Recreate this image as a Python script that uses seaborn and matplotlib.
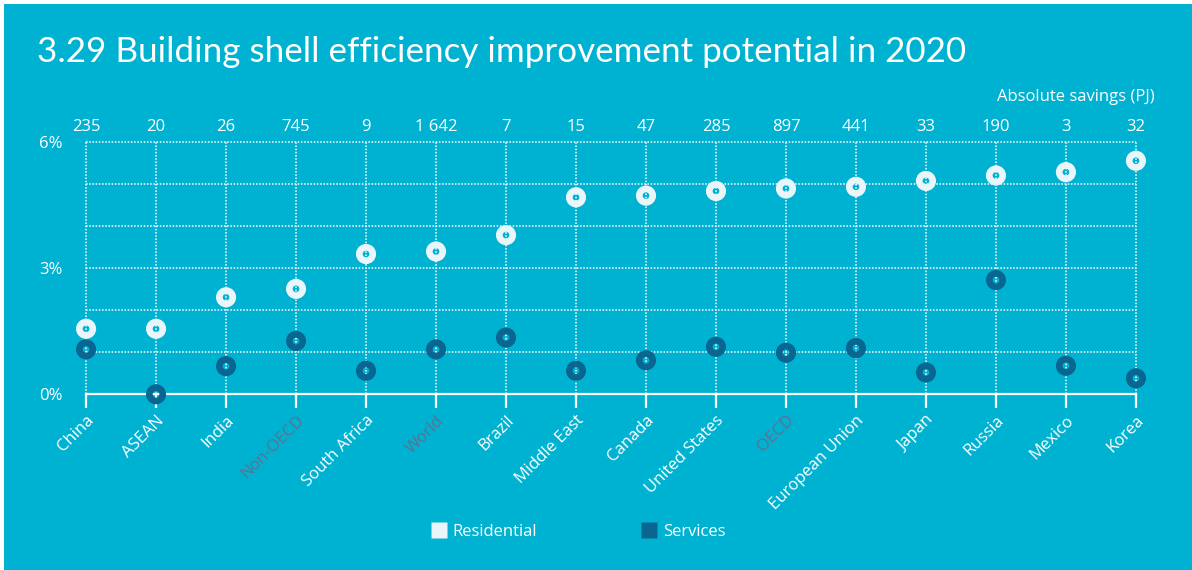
import matplotlib
matplotlib.use("Agg")
import matplotlib.pyplot as plt
from matplotlib.patches import Rectangle
from matplotlib.lines import Line2D
import seaborn as sns
import pandas as pd

# Regions, ordered by residential potential
regions = ["China", "ASEAN", "India", "Non-OECD", "South Africa", "World", "Brazil",
           "Middle East", "Canada", "United States", "OECD", "European Union",
           "Japan", "Russia", "Mexico", "Korea"]
# Improvement potential, % of energy use
residential = [1.56, 1.56, 2.31, 2.51, 3.34, 3.40, 3.79, 4.69, 4.73, 4.84, 4.90,
               4.94, 5.08, 5.21, 5.29, 5.56]
services = [1.07, 0.00, 0.67, 1.27, 0.56, 1.07, 1.35, 0.56, 0.81, 1.13, 0.99,
            1.10, 0.52, 2.72, 0.68, 0.38]
# Absolute savings (PJ)
savings = ["235", "20", "26", "745", "9", "1 642", "7", "15", "47", "285", "897",
           "441", "33", "190", "3", "32"]
aggregates = ["Non-OECD", "World", "OECD"]

TEAL = "#00b2d1"
WHITE = "#ffffff"
RES_COL = "#e9f5f8"
SRV_COL = "#0a6691"
AGG_COL = "#5f7093"
FONT = ["Open Sans", "DejaVu Sans"]

sns.set_theme(style="white")
plt.rcParams["font.family"] = FONT

df = pd.DataFrame({
    "region": regions * 2,
    "pos": list(range(len(regions))) * 2,
    "value": residential + services,
    "sector": ["Residential"] * len(regions) + ["Services"] * len(regions),
})

fig = plt.figure(figsize=(11.92, 5.70), dpi=100, facecolor=TEAL)
# thin white frame on the top and left edges
fig.add_artist(Rectangle((0, 1 - 4 / 570), 1, 4 / 570, transform=fig.transFigure,
                         facecolor=WHITE, edgecolor="none", zorder=0))
fig.add_artist(Rectangle((0, 0), 4 / 1192, 1, transform=fig.transFigure,
                         facecolor=WHITE, edgecolor="none", zorder=0))

left, right = 86 / 1192, 1136 / 1192
bottom, top = (570 - 394.3) / 570, (570 - 142.3) / 570
ax = fig.add_axes([left, bottom, right - left, top - bottom])
ax.set_facecolor("none")

palette = {"Residential": RES_COL, "Services": SRV_COL}
for sector, col in palette.items():
    sub = df[df["sector"] == sector]
    sns.scatterplot(data=sub, x="pos", y="value", ax=ax, color=col, s=94,
                    linewidth=4.8, legend=False, zorder=3, clip_on=False)
    coll = ax.collections[-1]
    coll.set_facecolor("none")
    coll.set_edgecolor(col)

ax.set_xlim(-0.001, len(regions) - 1 + 0.001)
ax.set_ylim(0, 6.0)
ax.set_xlabel("")
ax.set_ylabel("")

# dotted grid
ax.set_xticks(range(len(regions)))
for y in range(1, 7):
    ax.axhline(y, color=WHITE, lw=1.1, ls=(0, (1, 1.1)), zorder=1, clip_on=False)
for x in range(len(regions)):
    ax.axvline(x, color=WHITE, lw=1.1, ls=(0, (1, 1.1)), zorder=1, clip_on=False)

for s in ["top", "right", "left"]:
    ax.spines[s].set_visible(False)
ax.spines["bottom"].set_color(WHITE)
ax.spines["bottom"].set_linewidth(1.6)
ax.spines["bottom"].set_zorder(2)

ax.set_yticks([0, 3, 6])
ax.set_yticklabels(["0%", "3%", "6%"])
ax.tick_params(axis="y", length=0, pad=17, labelsize=12, labelcolor=WHITE)
ax.set_xticklabels(regions, rotation=45, ha="right", rotation_mode="anchor")
ax.tick_params(axis="x", length=10, width=1.6, color=WHITE, direction="out",
               pad=3, labelsize=12, labelcolor=WHITE)
for lab in ax.get_xticklabels():
    if lab.get_text() in aggregates:
        lab.set_color(AGG_COL)

# absolute savings along the top
ax2 = ax.twiny()
ax2.set_xlim(ax.get_xlim())
ax2.set_xticks(range(len(regions)))
ax2.set_xticklabels(savings)
ax2.tick_params(axis="x", length=0, pad=5, labelsize=12, labelcolor=WHITE)
for s in ax2.spines.values():
    s.set_visible(False)
ax2.grid(False)
ax.grid(False)

fig.text(1155 / 1192, 1 - 97 / 570, "Absolute savings (PJ)", ha="right", va="center",
         color=WHITE, fontsize=12)
fig.text(37 / 1192, 1 - 52 / 570, "3.29 Building shell efficiency improvement potential in 2020",
         ha="left", va="center", color=WHITE, fontsize=25.2, family=["Lato", "DejaVu Sans"])

handles = [Line2D([], [], marker="s", ls="none", markersize=11.5, markerfacecolor=c,
                  markeredgecolor="none", label=k) for k, c in palette.items()]
leg = fig.legend(handles=handles, loc="center", bbox_to_anchor=(578 / 1192, 1 - 532 / 570),
                 ncol=2, frameon=False, fontsize=12, columnspacing=6.2, handletextpad=0.35,
                 handlelength=1.0)
for t in leg.get_texts():
    t.set_color(WHITE)

fig.savefig("out.png", dpi=100, facecolor=fig.get_facecolor())
